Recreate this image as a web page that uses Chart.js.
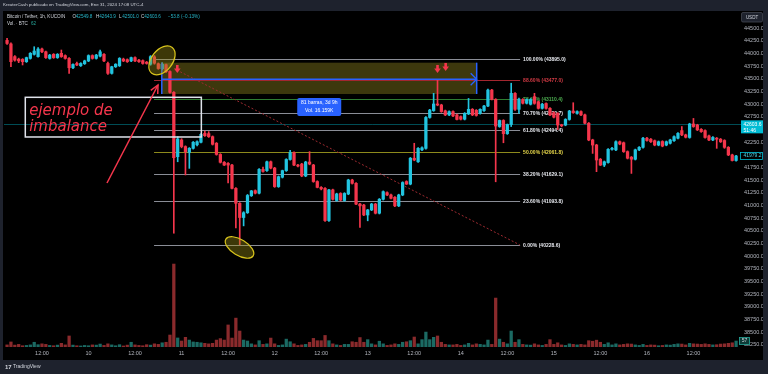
<!DOCTYPE html>
<html>
<head>
<meta charset="utf-8">
<title>BTC/USDT 1h</title>
<script src="https://cdn.jsdelivr.net/npm/chart.js@4.4.1/dist/chart.umd.min.js"></script>
<style>
  html, body { margin: 0; padding: 0; background: #1e222d; overflow: hidden; }
  canvas { display: block; }
</style>
</head>
<body>
<canvas id="chart" width="768" height="374"></canvas>
<script>
// candles are hourly, x = hours counted from Jan 10 00:00
const startHour = -21;

const opens = [
  44260, 44190, 43940, 43890, 43885, 43840, 43905, 43985, 43940, 44090,
  44035, 43905, 43985, 43920, 44005, 43960, 43905, 43720, 43805, 43760,
  43800, 43855, 43960, 43905, 43950, 43985, 43805, 43610, 43740, 43760,
  43890, 43880, 43855, 43920, 43870, 43860, 43830, 43790, 43935, 43800,
  43700, 43780, 43645, 43235, 41965, 42295, 42165, 42050, 42130, 42200,
  42250, 42425, 42420, 42360, 42230, 42010, 41855, 41835, 41800, 41340,
  41045, 40765, 40860, 41195, 41295, 41245, 41715, 41690, 41865, 41740,
  41375, 41560, 41690, 41910, 42045, 41800, 41820, 41585, 41860, 41800,
  41475, 41360, 41340, 40705, 41310, 41100, 41240, 41100, 41230, 41505,
  41440, 41030, 41010, 40815, 40915, 41030, 40850, 41125, 41255, 41210,
  41165, 40995, 41210, 41475, 41425, 41935, 41865, 42100, 42130, 42740,
  42875, 43005, 42985, 42870, 42790, 42855, 42790, 42755, 42705, 42810,
  42900, 42880, 42820, 42875, 42965, 43280, 43095, 42560, 42680, 42420,
  42600, 43215, 42900, 43095, 43020, 43000, 43150, 43050, 42920, 43015,
  42920, 42835, 42820, 42590, 42590, 42700, 42865, 42820, 42855, 42790,
  42625, 42295, 42195, 41915, 41800, 41850, 42110, 42100, 42260, 42240,
  42065, 41955, 41915, 42100, 42150, 42330, 42310, 42280, 42195, 42265,
  42195, 42230, 42280, 42330, 42480, 42395, 42345, 42610, 42590, 42505,
  42480, 42375, 42295, 42330, 42310, 42285, 42150, 42000, 41890
];
const highs = [
  44300, 44210, 43960, 43910, 43900, 43930, 44020, 44135, 44120, 44110,
  44050, 43985, 44000, 44000, 44070, 43975, 43920, 43800, 43830, 43820,
  43870, 43975, 43975, 43985, 44070, 44000, 43830, 43750, 43800, 43920,
  43910, 43895, 43930, 43935, 43885, 43875, 43845, 43960, 43960, 43815,
  43820, 43795, 43660, 43250, 42360, 42320, 42180, 42145, 42265, 42280,
  42420, 42470, 42460, 42375, 42245, 42025, 41870, 41850, 41815, 41355,
  41060, 40880, 41220, 41300, 41310, 41730, 41760, 41880, 41880, 41755,
  41585, 41700, 41925, 42090, 42060, 41815, 41835, 41875, 42065, 41815,
  41490, 41375, 41355, 41320, 41325, 41245, 41255, 41255, 41520, 41520,
  41455, 41045, 41025, 40925, 41045, 41045, 41140, 41290, 41270, 41225,
  41180, 41225, 41470, 41490, 41950, 42230, 42145, 42160, 42755, 42900,
  43215, 43480, 43000, 42885, 42870, 42870, 42805, 42770, 42835, 43115,
  42915, 42895, 42910, 42980, 43300, 43295, 43110, 42690, 42695, 42610,
  43415, 43230, 43120, 43110, 43105, 43110, 43215, 43065, 43020, 43030,
  42935, 42850, 42835, 42605, 42715, 42880, 43030, 42870, 42870, 42805,
  42640, 42310, 42210, 41930, 41880, 42125, 42150, 42280, 42275, 42255,
  42080, 41970, 42115, 42165, 42345, 42345, 42325, 42295, 42275, 42280,
  42275, 42310, 42375, 42440, 42560, 42410, 42625, 42720, 42605, 42520,
  42495, 42390, 42360, 42345, 42325, 42300, 42165, 42015, 41990
];
const lows = [
  44180, 43740, 43850, 43820, 43775, 43825, 43890, 43970, 43930, 44020,
  43905, 43890, 43905, 43905, 43925, 43890, 43610, 43700, 43760, 43745,
  43785, 43840, 43890, 43890, 43935, 43840, 43590, 43595, 43725, 43745,
  43840, 43825, 43840, 43840, 43825, 43790, 43790, 43770, 43790, 43690,
  43680, 43630, 43220, 40455, 41865, 42140, 41605, 41735, 42115, 42180,
  42235, 42365, 42345, 42195, 41995, 41840, 41790, 41450, 41330, 40560,
  40229, 40600, 40845, 41180, 41230, 41230, 41660, 41675, 41725, 41360,
  41360, 41545, 41675, 41895, 41790, 41765, 41570, 41570, 41805, 41460,
  41350, 41310, 40690, 40690, 41110, 41085, 41095, 41085, 41215, 41425,
  41020, 40570, 40800, 40700, 40900, 40835, 40835, 41110, 41195, 41130,
  40980, 40980, 41195, 41415, 41410, 41885, 41850, 42085, 42115, 42725,
  42860, 42970, 42840, 42775, 42775, 42755, 42690, 42690, 42690, 42795,
  42775, 42765, 42805, 42860, 42950, 43085, 41470, 42545, 42240, 42405,
  42560, 42880, 42820, 43005, 43005, 42985, 43000, 42905, 42905, 42905,
  42775, 42730, 42500, 42555, 42575, 42685, 42820, 42805, 42775, 42610,
  42280, 42030, 41670, 41790, 41770, 41835, 42095, 42085, 42200, 42050,
  41920, 41635, 41900, 42085, 42135, 42270, 42245, 42180, 42180, 42160,
  42180, 42215, 42265, 42315, 42380, 42335, 42330, 42545, 42480, 42445,
  42330, 42280, 42280, 42130, 42245, 42130, 41985, 41880, 41875
];
const closes = [
  44200, 43840, 43870, 43855, 43840, 43920, 44005, 44050, 44090, 44035,
  43920, 43970, 43920, 43985, 43940, 43905, 43720, 43785, 43775, 43805,
  43855, 43960, 43905, 43970, 44035, 43855, 43610, 43740, 43790, 43905,
  43855, 43840, 43920, 43855, 43840, 43805, 43805, 43940, 43810, 43705,
  43790, 43645, 43235, 41945, 42315, 42165, 42065, 42130, 42250, 42260,
  42405, 42380, 42360, 42210, 42010, 41855, 41800, 41800, 41340, 41045,
  40765, 40860, 41200, 41290, 41245, 41715, 41675, 41865, 41740, 41375,
  41570, 41690, 41910, 42045, 41800, 41780, 41585, 41860, 41820, 41475,
  41360, 41330, 40705, 41310, 41125, 41230, 41110, 41240, 41505, 41440,
  41030, 40995, 40815, 40915, 41030, 40850, 41125, 41275, 41210, 41145,
  40995, 41210, 41455, 41425, 41935, 41900, 42130, 42140, 42740, 42885,
  43005, 42985, 42855, 42790, 42855, 42770, 42700, 42705, 42820, 42900,
  42790, 42780, 42900, 42965, 43280, 43095, 42570, 42680, 42420, 42600,
  43215, 42900, 43100, 43020, 43095, 43095, 43018, 42920, 43000, 42920,
  42790, 42745, 42590, 42575, 42700, 42865, 42835, 42855, 42790, 42625,
  42295, 42195, 41900, 41800, 41865, 42110, 42130, 42260, 42215, 42065,
  41935, 41915, 42100, 42150, 42330, 42285, 42260, 42195, 42260, 42175,
  42260, 42295, 42360, 42425, 42395, 42350, 42610, 42560, 42495, 42460,
  42345, 42295, 42345, 42310, 42260, 42150, 42000, 41890, 41979
];
// volume in BTC
const volumes = [
  20, 48, 18, 25, 12, 15, 20, 45, 22, 30,
  25, 15, 12, 18, 35, 20, 105, 18, 12, 10,
  15, 12, 20, 18, 28, 15, 30, 20, 12, 22,
  10, 18, 45, 20, 15, 12, 22, 18, 30, 25,
  40, 45, 114, 790, 86, 57, 92, 66, 48, 45,
  40, 35, 30, 35, 66, 80, 66, 210, 85, 275,
  152, 66, 57, 30, 20, 60, 25, 30, 85, 30,
  15, 20, 75, 50, 30, 15, 20, 25, 45, 82,
  60, 60, 110, 60, 30, 20, 15, 25, 25, 50,
  45, 90, 45, 70, 30, 20, 55, 30, 15, 20,
  30, 25, 45, 50, 60, 95, 30, 70, 142, 70,
  92, 105, 45, 25, 20, 20, 25, 15, 20, 35,
  20, 30, 25, 20, 66, 25, 466, 75, 45, 30,
  152, 45, 70, 25, 20, 18, 30, 20, 15, 25,
  70, 25, 40, 20, 15, 30, 25, 20, 25, 20,
  60, 55, 65, 45, 25, 40, 20, 30, 20, 25,
  30, 28, 20, 15, 25, 15, 20, 18, 12, 15,
  20, 18, 25, 30, 28, 20, 35, 30, 28, 25,
  30, 25, 20, 22, 28, 30, 35, 40, 57
];

const timeTicks = [-12, 0, 12, 24, 36, 48, 60, 72, 84, 96, 108, 120, 132, 144, 156];
const timeLabels = ["12:00", "10", "12:00", "11", "12:00", "12", "12:00", "13", "12:00", "14", "12:00", "15", "12:00", "16", "12:00"];
const priceTicks = [38250, 38500, 38750, 39000, 39250, 39500, 39750, 40000, 40250, 40500, 40750, 41000, 41250,
  41500, 41750, 42000, 42250, 42500, 42750, 43000, 43250, 43500, 43750, 44000, 44250, 44500];

const fibPercents = ["100.00%", "88.60%", "78.60%", "70.70%", "61.80%", "50.00%", "38.20%", "23.60%", "0.00%"];
const fibPrices = [43895.0, 43477.0, 43110.4, 42820.7, 42494.4, 42061.8, 41629.1, 41093.8, 40228.6];
const fibLineColors = ["#8a8d96", "#a3262f", "#2e7d32", "#8a8d96", "#8a8d96", "#8d8a1c", "#8a8d96", "#8a8d96", "#8a8d96"];
const fibTextColors = ["#e6e8ee", "#d23a44", "#4caf50", "#e6e8ee", "#e6e8ee", "#e8d84a", "#e6e8ee", "#e6e8ee", "#e6e8ee"];

const lastPrice = 42603.6;
const lastClose = 41979.2;
const lastVolume = 57;

const upColor = "#22c4e0";
const downColor = "#f5364c";

const hours = opens.map((o, i) => startHour + i);
const candleColors = opens.map((o, i) => closes[i] >= o ? upColor : downColor);
const volumeColors = opens.map((o, i) => closes[i] >= o ? "#1b6a63" : "#8a2a2c");

Chart.defaults.font.family = '"Liberation Sans", Arial, sans-serif';

function crisp(v) { return Math.round(v) + 0.5; }

function line(ctx, x1, y1, x2, y2, color, w, dash) {
  ctx.beginPath();
  ctx.strokeStyle = color;
  ctx.lineWidth = w;
  ctx.setLineDash(dash || []);
  ctx.moveTo(x1, y1);
  ctx.lineTo(x2, y2);
  ctx.stroke();
  ctx.setLineDash([]);
}

function text(ctx, str, x, y, font, color, align) {
  ctx.font = font;
  ctx.fillStyle = color;
  ctx.textAlign = align || "left";
  ctx.textBaseline = "middle";
  ctx.fillText(str, x, y);
}

function downArrow(ctx, cx, top) {
  ctx.fillStyle = "#f5364c";
  ctx.fillRect(cx - 1.3, top, 2.6, 4);
  ctx.beginPath();
  ctx.moveTo(cx - 3.3, top + 3.5);
  ctx.lineTo(cx + 3.3, top + 3.5);
  ctx.lineTo(cx, top + 8);
  ctx.closePath();
  ctx.fill();
}

function ellipse(ctx, cx, cy, rx, ry, rot) {
  ctx.beginPath();
  ctx.ellipse(cx, cy, rx, ry, rot, 0, Math.PI * 2);
  ctx.fillStyle = "rgba(160,148,20,0.38)";
  ctx.fill();
  ctx.strokeStyle = "#d8c41c";
  ctx.lineWidth = 1.2;
  ctx.stroke();
}

// tradingview drawings on top of the chart, placed in hours / price
const drawings = {
  id: "drawings",
  beforeDraw(chart) {
    const ctx = chart.ctx;
    ctx.save();
    ctx.fillStyle = "#1e222d";
    ctx.fillRect(0, 0, 768, 374);
    ctx.fillStyle = "#000000";
    ctx.fillRect(3, 11, 760, 349);
    ctx.restore();
  },
  beforeDatasetsDraw(chart) {
    const { ctx, chartArea: a, scales: { x, y } } = chart;
    const X = v => x.getPixelForValue(v), Y = v => y.getPixelForValue(v);
    ctx.save();
    ctx.beginPath();
    ctx.rect(a.left, a.top, a.right - a.left, a.bottom - a.top);
    ctx.clip();

    // last price line
    line(ctx, a.left, crisp(Y(lastPrice)), a.right, crisp(Y(lastPrice)), "rgba(0,170,190,0.45)", 1);

    // zone
    ctx.fillStyle = "rgba(170,155,35,0.36)";
    ctx.fillRect(X(18.9), Y(43820), X(100.1) - X(18.9), Y(43202) - Y(43820));

    // fib retracement
    for (let i = 0; i < fibPrices.length; i++) {
      const yy = crisp(Y(fibPrices[i]));
      line(ctx, X(16.9), yy, X(111.3), yy, fibLineColors[i], 1);
      text(ctx, fibPercents[i] + " (" + fibPrices[i].toFixed(1) + ")", X(111.3) + 3, yy, "bold 5px \"Liberation Sans\"", fibTextColors[i]);
    }
    // fib trend line
    line(ctx, X(22.74), Y(43676), X(111.27), Y(40223), "#9c2a30", 1, [2, 2]);
    ctx.restore();
  },
  afterDatasetsDraw(chart) {
    const { ctx, scales: { x, y } } = chart;
    const X = v => x.getPixelForValue(v), Y = v => y.getPixelForValue(v);
    ctx.save();

    // date range
    const xl = X(18.9), xr = X(100.1), yb = Y(43492);
    line(ctx, xl, yb, xr, yb, "#2962ff", 1.5);
    line(ctx, xl, Y(43820), xl, Y(43202), "#2962ff", 1.5);
    line(ctx, xr, Y(43820), xr, Y(43202), "#2962ff", 1.5);
    ctx.beginPath();
    ctx.strokeStyle = "#2962ff";
    ctx.lineWidth = 1.3;
    ctx.moveTo(xr - 6, yb - 6);
    ctx.lineTo(xr, yb);
    ctx.lineTo(xr - 6, yb + 6);
    ctx.stroke();
    const bx = (xl + xr) / 2;
    ctx.fillStyle = "#2962ff";
    ctx.beginPath();
    ctx.roundRect(bx - 22, Y(43123), 44, 18, 2);
    ctx.fill();
    text(ctx, "81 barras, 3d 9h", bx, Y(43123) + 5, "5px \"Liberation Sans\"", "#ffffff", "center");
    text(ctx, "Vol. 16.159K", bx, Y(43123) + 13, "5px \"Liberation Sans\"", "#ffffff", "center");

    // arrows
    downArrow(ctx, X(22.9), Y(43775));
    downArrow(ctx, X(90.0), Y(43775));
    downArrow(ctx, X(92.1), Y(43815));

    // ellipses
    ellipse(ctx, X(18.95), Y(43866), 16.5, 10.5, -0.9);
    ellipse(ctx, X(38.94), Y(40174), 16, 8, 0.55);

    // note box
    ctx.strokeStyle = "#e0e3eb";
    ctx.lineWidth = 1.5;
    ctx.strokeRect(X(-16.3), Y(43137), X(29.1) - X(-16.3), Y(42354) - Y(43137));
    ctx.font = "oblique 15px \"DejaVu Sans\"";
    ctx.fillStyle = "#f5364c";
    ctx.textAlign = "left";
    ctx.textBaseline = "alphabetic";
    ctx.fillText("ejemplo de", X(-15.3), Y(42784));
    ctx.fillText("imbalance", X(-15.3), Y(42478));

    // pointer
    const x1 = X(4.77), y1 = Y(41446), x2 = X(17.92), y2 = Y(43380);
    line(ctx, x1, y1, x2, y2, "#f5364c", 1.5);
    const ang = Math.atan2(y1 - y2, x1 - x2);
    ctx.beginPath();
    ctx.strokeStyle = "#f5364c";
    ctx.moveTo(x2 + 9 * Math.cos(ang + 0.45), y2 + 9 * Math.sin(ang + 0.45));
    ctx.lineTo(x2, y2);
    ctx.lineTo(x2 + 9 * Math.cos(ang - 0.45), y2 + 9 * Math.sin(ang - 0.45));
    ctx.stroke();
    ctx.restore();
  },
  afterDraw(chart) {
    const { ctx, scales: { y, yv } } = chart;
    ctx.save();
    // header and legend
    text(ctx, "KreuterCash publicado en TradingView.com, Ene 31, 2024 17:08 UTC-4", 3, 5, "4.4px \"Liberation Sans\"", "#d1d4dc");
    const f = "4.6px \"Liberation Sans\"";
    const cyan = "#26b8cc";
    text(ctx, "Bitcoin / Tether, 1h, KUCOIN", 7, 16.5, f, "#d1d4dc");
    const ohlc = [["O", "42549.8", 72.5], ["H", "42643.9", 96], ["L", "42501.0", 119], ["C", "42603.6", 141]];
    for (const [k, v, px] of ohlc) {
      text(ctx, k, px, 16.5, f, "#d1d4dc");
      text(ctx, v, px + 3.3, 16.5, f, cyan);
    }
    text(ctx, "\u221253.8 (\u22120.13%)", 168, 16.5, f, cyan);
    text(ctx, "Vol. \u00b7 BTC", 7, 24, f, "#d1d4dc");
    text(ctx, "62", 31, 24, f, "#26a69a");

    // USDT button
    ctx.fillStyle = "#1e222d";
    ctx.strokeStyle = "#434651";
    ctx.lineWidth = 0.8;
    ctx.beginPath();
    ctx.roundRect(741.5, 12.5, 21, 9.5, 1.5);
    ctx.fill();
    ctx.stroke();
    text(ctx, "USDT", 752, 17.4, "4.5px \"Liberation Sans\"", "#d1d4dc", "center");

    // last price label
    const yp = y.getPixelForValue(lastPrice);
    ctx.fillStyle = "#00bcd4";
    ctx.fillRect(741, yp - 4, 22, 13);
    text(ctx, lastPrice.toFixed(1), 743.5, yp, "5px \"Liberation Sans\"", "#ffffff");
    text(ctx, "51:46", 743.5, yp + 5.8, "5px \"Liberation Sans\"", "#ffffff");

    // last close label
    const yc = y.getPixelForValue(lastClose);
    ctx.fillStyle = "#000000";
    ctx.fillRect(740, yc - 3.5, 23, 7);
    ctx.strokeStyle = "#00bcd4";
    ctx.lineWidth = 0.8;
    ctx.strokeRect(740.5, yc - 3.5, 22, 7);
    text(ctx, lastClose.toFixed(1), 743.5, yc, "5px \"Liberation Sans\"", "#4fd3e8");

    // volume label
    const yvp = yv.getPixelForValue(lastVolume);
    ctx.fillStyle = "#0d3b37";
    ctx.fillRect(739, yvp - 3.5, 11, 7);
    ctx.strokeStyle = "#26a69a";
    ctx.strokeRect(739.5, yvp - 3.5, 10, 7);
    text(ctx, String(lastVolume), 744.5, yvp, "5px \"Liberation Sans\"", "#d1d4dc", "center");

    // footer
    text(ctx, "17", 5, 367, "bold 6px \"Liberation Sans\"", "#d1d4dc");
    text(ctx, "TradingView", 13, 367, "5px \"Liberation Sans\"", "#d1d4dc");
    ctx.restore();
  }
};

new Chart(document.getElementById("chart"), {
  type: "bar",
  data: {
    datasets: [
      {
        label: "body",
        data: hours.map((h, i) => ({ x: h, y: [opens[i], closes[i]] })),
        backgroundColor: candleColors,
        grouped: false,
        barPercentage: 1,
        categoryPercentage: 1,
        maxBarThickness: 2.6,
        minBarLength: 1,
        order: 0,
        yAxisID: "y"
      },
      {
        label: "wick",
        data: hours.map((h, i) => ({ x: h, y: [lows[i], highs[i]] })),
        backgroundColor: candleColors,
        grouped: false,
        barPercentage: 1,
        categoryPercentage: 1,
        maxBarThickness: 1,
        order: 1,
        yAxisID: "y"
      },
      {
        label: "volume",
        data: hours.map((h, i) => ({ x: h, y: volumes[i] })),
        backgroundColor: volumeColors,
        grouped: false,
        barPercentage: 1,
        categoryPercentage: 1,
        maxBarThickness: 2.6,
        order: 2,
        yAxisID: "yv"
      }
    ]
  },
  options: {
    responsive: false,
    animation: false,
    devicePixelRatio: 1,
    events: [],
    layout: { padding: { left: 4, top: 11, right: 5, bottom: 14 } },
    plugins: { legend: { display: false }, tooltip: { enabled: false } },
    scales: {
      x: {
        type: "linear",
        min: -21.79,
        max: 168.26,
        offset: false,
        grid: { display: false, drawTicks: false },
        border: { display: false },
        afterBuildTicks: s => { s.ticks = timeTicks.map(v => ({ value: v })); },
        afterFit: s => { s.height = 13; s.paddingLeft = 0; s.paddingRight = 0; },
        ticks: {
          color: "#b2b5be",
          font: { size: 5.5 },
          padding: 3,
          maxRotation: 0,
          autoSkip: false,
          callback: (v, i) => timeLabels[i]
        }
      },
      y: {
        position: "right",
        min: 38210,
        max: 44840,
        grid: { display: false, drawTicks: false },
        border: { display: false },
        afterBuildTicks: s => { s.ticks = priceTicks.map(v => ({ value: v })); },
        afterFit: s => { s.width = 22; s.paddingTop = 0; s.paddingBottom = 0; },
        ticks: {
          color: "#b2b5be",
          font: { size: 5.5 },
          padding: 3,
          autoSkip: false,
          callback: v => Number(v).toFixed(1)
        }
      },
      yv: { display: false, min: 0, max: 3200 }
    }
  },
  plugins: [drawings]
});
</script>
</body>
</html>
